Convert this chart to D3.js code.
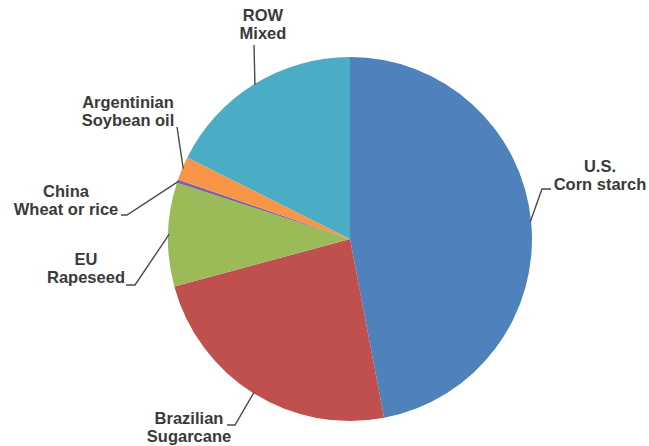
<!DOCTYPE html>
<html>
<head>
<meta charset="utf-8">
<script src="https://cdn.jsdelivr.net/npm/d3@7/dist/d3.min.js"></script>
<style>
  html, body { margin: 0; padding: 0; background: #fff; }
  svg { display: block; }
  .lbl { font-family: "Liberation Sans", Arial, sans-serif; font-weight: bold; font-size: 16.5px; fill: #3a3a3a; }
</style>
</head>
<body>
<svg id="chart" width="649" height="446"></svg>
<script>
// Feedstock shares (percent), clockwise from 12 o'clock
const regions    = ["U.S.", "Brazilian", "EU", "China", "Argentinian", "ROW"];
const feedstocks = ["Corn starch", "Sugarcane", "Rapeseed", "Wheat or rice", "Soybean oil", "Mixed"];
const shares     = [47.0, 23.8, 9.2, 0.3, 2.1, 17.6];
const colors     = ["#4f81bd", "#c0504d", "#9bbb59", "#8064a2", "#f79646", "#4bacc6"];

// Label placement: text centre x, first-line baseline, leader elbow and tail end
const labelLayout = [
  { x: 600, y: 172, elbow: [542, 189], end: [551, 189] },
  { x: 189, y: 424, elbow: [235, 425], end: [227, 425] },
  { x: 86,  y: 265, elbow: [135, 285], end: [126, 285] },
  { x: 66,  y: 197, elbow: [127, 215], end: [121, 215] },
  { x: 128, y: 108, elbow: [177, 127], end: [177, 127] },
  { x: 263, y: 21,  elbow: [254, 45],  end: [254, 45] }
];

const width = 649, height = 446;
const cx = 350, cy = 239, radius = 182;
const lineGap = 18;

const svg = d3.select("#chart");
const g = svg.append("g").attr("transform", `translate(${cx},${cy})`);

const pie = d3.pie().sort(null).value(d => d.value).startAngle(0).endAngle(2 * Math.PI);
const arc = d3.arc().innerRadius(0).outerRadius(radius);

const data = regions.map((r, i) => ({
  region: r, feedstock: feedstocks[i], value: shares[i], color: colors[i], layout: labelLayout[i]
}));
const arcs = pie(data);

g.selectAll("path.slice")
  .data(arcs)
  .join("path")
  .attr("class", "slice")
  .attr("d", arc)
  .attr("fill", d => d.data.color);

// Leader lines from the middle of each slice's rim to its label
const line = d3.line();
svg.selectAll("path.leader")
  .data(arcs)
  .join("path")
  .attr("class", "leader")
  .attr("fill", "none")
  .attr("stroke", "#4a4a4a")
  .attr("stroke-width", 1.4)
  .attr("d", d => {
    const a = (d.startAngle + d.endAngle) / 2;
    const p0 = [cx + (radius - 1) * Math.sin(a), cy - (radius - 1) * Math.cos(a)];
    const L = d.data.layout;
    return line([p0, L.elbow, L.end]);
  });

// Two-line labels
const labels = svg.selectAll("text.lbl")
  .data(data)
  .join("text")
  .attr("class", "lbl")
  .attr("text-anchor", "middle")
  .attr("x", d => d.layout.x)
  .attr("y", d => d.layout.y);
labels.append("tspan").attr("x", d => d.layout.x).text(d => d.region);
labels.append("tspan").attr("x", d => d.layout.x).attr("dy", lineGap).text(d => d.feedstock);
</script>
</body>
</html>
